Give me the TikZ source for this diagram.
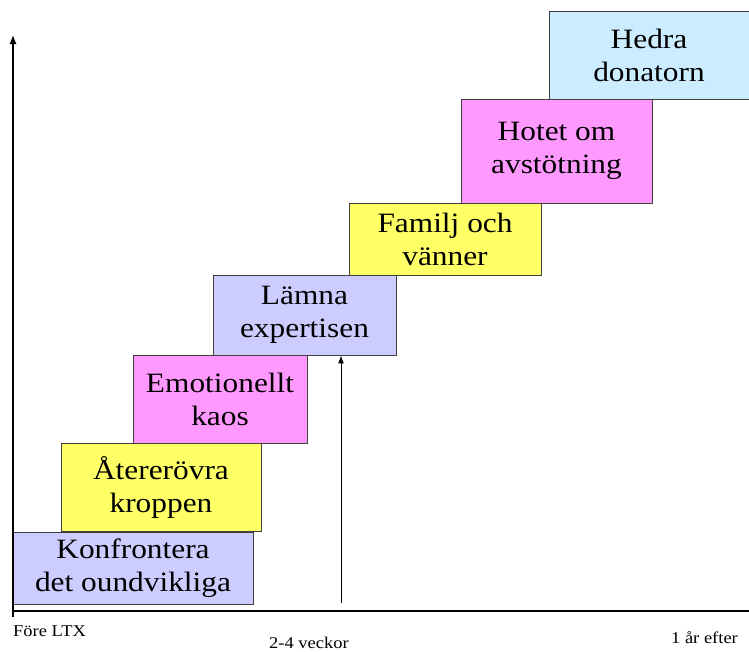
\documentclass[tikz,border=0pt]{standalone}
\usepackage{fontspec}
\setmainfont[FakeStretch=1.12]{Liberation Serif}
\usetikzlibrary{arrows.meta}
\definecolor{lavender}{HTML}{CCCCFF}
\definecolor{lemon}{HTML}{FFFF66}
\definecolor{pinkish}{HTML}{FF99FF}
\definecolor{skyblue}{HTML}{CCECFF}
\tikzset{
  stage/.style={draw=black!75, line width=0.9pt, rectangle, align=center, inner sep=0pt,
    font=\fontsize{28}{33}\selectfont},
  axis/.style={line width=1.2pt},
  tick label/.style={font=\fontsize{16.5}{18}\selectfont, inner sep=0pt}
}

\begin{document}
\begin{tikzpicture}[x=1pt, y=-1pt]
\useasboundingbox (0,0) rectangle (749,651);
%% the steps, from the bottom left up to the top right
\node[stage, fill=lavender, minimum width=240pt, minimum height=72pt] (konf) at (133,568) {Konfrontera\\det oundvikliga};
\node[stage, fill=lemon, minimum width=200pt, minimum height=88pt] (ater) at (161,487) {Återerövra\\kroppen};
\node[stage, fill=pinkish, minimum width=174pt, minimum height=88pt] (emo) at (220,399) {Emotionellt\\kaos};
\node[stage, fill=lavender, minimum width=183pt, minimum height=80pt] (lamna) at (304.5,315) {Lämna\\expertisen};
\node[stage, fill=lemon, minimum width=192pt, minimum height=72pt] (familj) at (445,239) {Familj och\\vänner};
\node[stage, fill=pinkish, minimum width=191pt, minimum height=104pt] (hotet) at (556.5,151) {Hotet om\\avstötning};
\node[stage, fill=skyblue, minimum width=200pt, minimum height=88pt] (hedra) at (649,55) {Hedra\\donatorn};
%% axes
\coordinate (origin) at (13,617);
\coordinate (ytop) at (13,35);
\coordinate (xstart) at (13,611);
\coordinate (xend) at (749,611);
\draw[axis, -{Latex[length=9pt,width=7pt]}] (origin) -- (ytop);
\draw[axis] (xstart) -- (xend);
%% marker for 2-4 weeks
\coordinate (mark) at (341,603);
\draw[line width=1pt, -{Latex[length=8pt,width=6pt]}] (mark) -- (mark |- lamna.south);
%% time labels
\node[tick label, anchor=base west] (fore) at (13,636) {Före LTX};
\node[tick label, anchor=base] (veckor) at (309,648) {2-4 veckor};
\node[tick label, anchor=base] (efter) at (704.5,643) {1 år efter};
\end{tikzpicture}
\end{document}
